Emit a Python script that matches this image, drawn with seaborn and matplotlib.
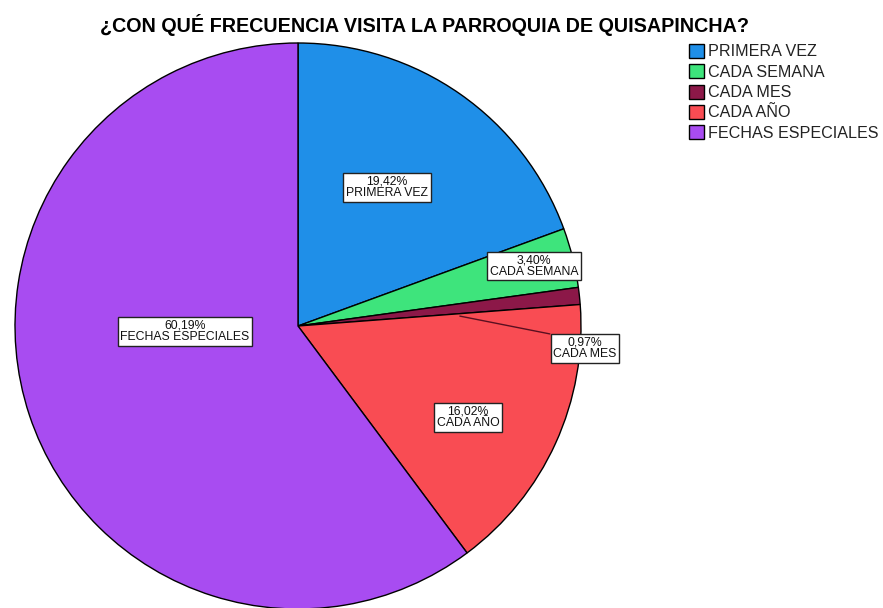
import matplotlib
matplotlib.use("Agg")
import matplotlib.pyplot as plt
import seaborn as sns

categorias = ["PRIMERA VEZ", "CADA SEMANA", "CADA MES", "CADA AÑO", "FECHAS ESPECIALES"]
porcentajes = [19.42, 3.40, 0.97, 16.02, 60.19]
colores = ["#1f8fe8", "#3ee47c", "#8c1848", "#f94c53", "#a84cf1"]

sns.set_theme(style="white")
plt.rcParams["font.family"] = ["Liberation Sans", "DejaVu Sans"]

fig = plt.figure(figsize=(8.83, 6.08), dpi=100)
ax = fig.add_axes([15 / 883, -1 / 608, 566 / 883, 566 / 608])

wedges, _ = ax.pie(porcentajes, colors=colores, startangle=90, counterclock=False,
                   radius=1.0, wedgeprops=dict(edgecolor="black", linewidth=1.0))
ax.set_xlim(-1, 1)
ax.set_ylim(-1, 1)
ax.set_aspect("equal")
ax.axis("off")

# posiciones de las etiquetas (coordenadas de datos)
pos_etiquetas = [(0.314, 0.491), (0.834, 0.212), (1.014, -0.078), (0.601, -0.322), (-0.399, -0.018)]
for cat, val, (x, y) in zip(categorias, porcentajes, pos_etiquetas):
    txt = f"{val:.2f}%".replace(".", ",") + "\n" + cat
    ax.text(x, y, txt, ha="center", va="center", fontsize=8.8, linespacing=0.95,
            color="#111111", zorder=5,
            bbox=dict(boxstyle="square,pad=0.22", facecolor="white", edgecolor="#222222", linewidth=1))

# linea guia para CADA MES
ax.plot([0.572, 0.89], [0.035, -0.028], color="#5a0f20", linewidth=1, zorder=4)

fig.text(425 / 883, 1 - 25 / 608, "¿CON QUÉ FRECUENCIA VISITA LA PARROQUIA DE QUISAPINCHA?",
         ha="center", va="center", fontsize=14.2, fontweight="bold", color="black")

leg = fig.legend(wedges, categorias, loc="upper left", bbox_to_anchor=(689 / 883, 1 - 44 / 608),
                 frameon=False, fontsize=11.6, handlelength=0.95, handleheight=0.95,
                 handletextpad=0.25, labelspacing=0.3, borderaxespad=0, borderpad=0)
for t in leg.get_texts():
    t.set_color("#222222")

fig.savefig("out.png", dpi=100, facecolor="white")
